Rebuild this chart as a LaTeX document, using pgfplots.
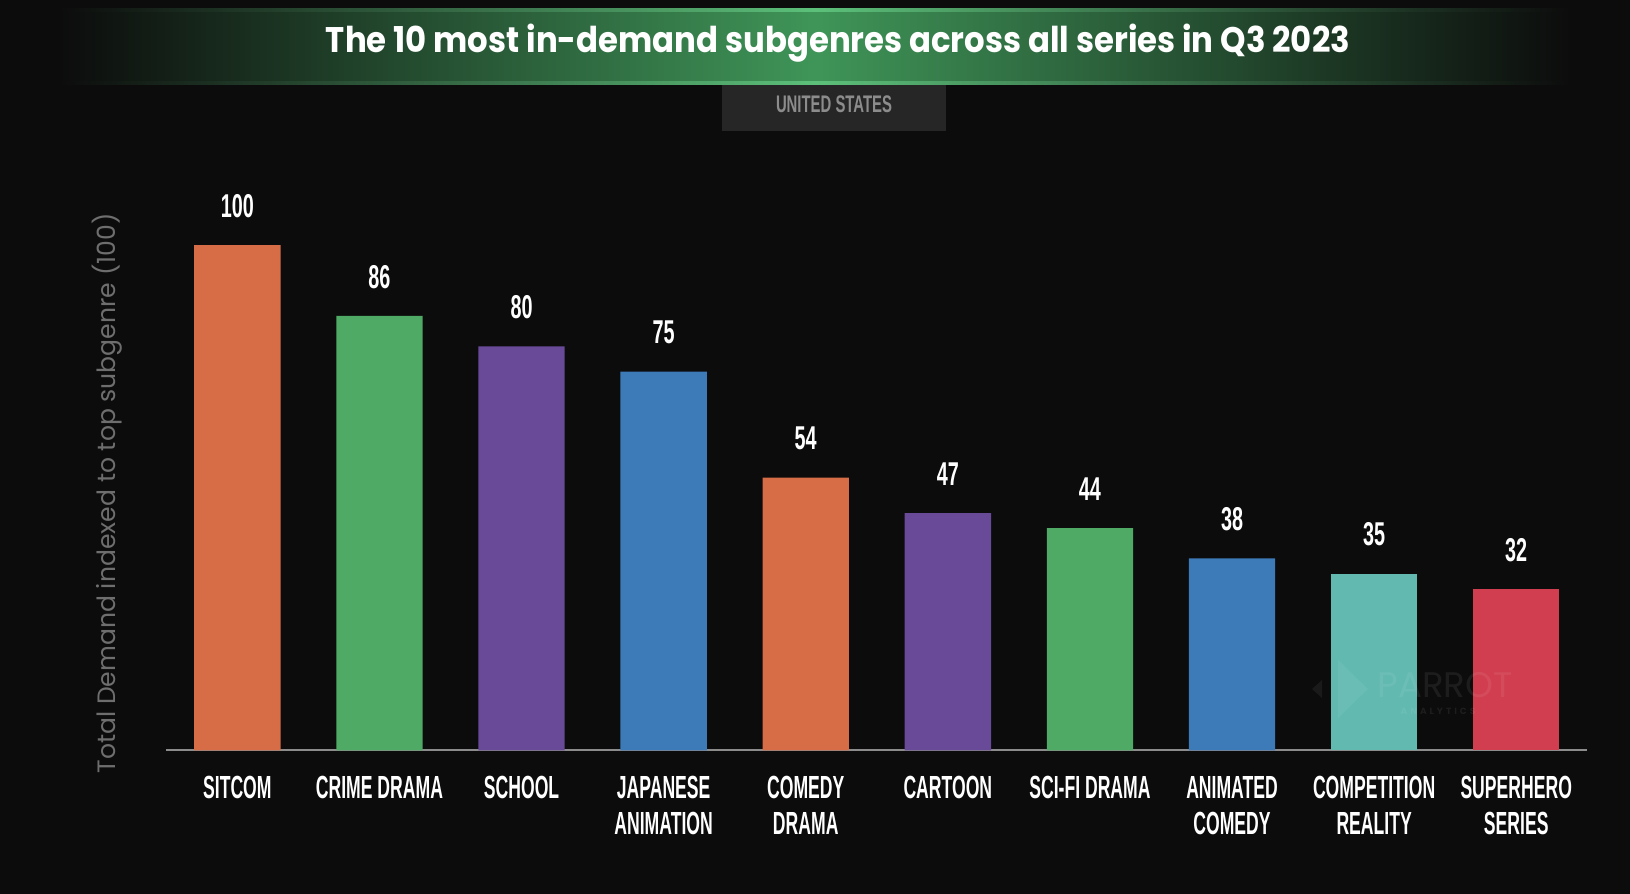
\documentclass[border=0pt]{standalone}
\usepackage{pgfplots}
\pgfplotsset{compat=1.18}
\usepackage{fontspec}
\setmainfont{Liberation Sans}
\newfontfamily\titlefont{Poppins}
\usepackage{graphicx}
\definecolor{bg}{HTML}{0C0C0C}
\definecolor{bandgreen}{HTML}{3F9558}
\definecolor{linegreen}{HTML}{5CC07A}
\definecolor{corange}{HTML}{D76D47}
\definecolor{cgreen}{HTML}{4FAA65}
\definecolor{cpurple}{HTML}{684A98}
\definecolor{cblue}{HTML}{3D7AB8}
\definecolor{cteal}{HTML}{61B9B0}
\definecolor{cred}{HTML}{D13E50}
\definecolor{axisgray}{HTML}{8C8C8C}
\definecolor{subbox}{HTML}{262626}
\definecolor{subtext}{HTML}{8C8C8C}
\definecolor{ylab}{HTML}{6E6E6E}
\newcommand\vlab[1]{\scalebox{0.6}[1]{\fontsize{16.5}{18}\selectfont\bfseries #1}}
\newcommand\tlab[2]{\scalebox{0.55}[1]{\fontsize{16}{18}\selectfont\bfseries\begin{tabular}[t]{@{}c@{}}#1\\#2\end{tabular}}}
\begin{document}
\begin{tikzpicture}[x=1pt,y=1pt]
\useasboundingbox (0,0) rectangle (815,447);
\fill[bg] (0,0) rectangle (815,447);
% title band
\shade[left color=bg, right color=bg, middle color=bandgreen] (30,405.5) rectangle (785,442);
\shade[left color=bg, right color=bg, middle color=linegreen] (30,441) rectangle (785,442.6);
\shade[left color=bg, right color=bg, middle color=linegreen] (30,404.8) rectangle (785,406.4);
\node[text=white, inner sep=0pt] at (419,425.2) {\scalebox{1}[1.1]{\resizebox{512pt}{!}{\titlefont\bfseries The 10 most in-demand subgenres across all series in Q3 2023}}};
% subtitle
\fill[subbox] (361,381.5) rectangle (473,404.5);
\node[text=subtext, inner sep=0pt] at (417,395) {\scalebox{0.62}[1]{\fontsize{12}{14}\selectfont\bfseries UNITED STATES}};
% y label
\node[text=ylab, inner sep=0pt, rotate=90] at (53.5,200.25) {\resizebox{280pt}{!}{\titlefont Total Demand indexed to top subgenre (100)}};
\begin{axis}[
  at={(83.15pt,71.75pt)}, anchor=south west,
  scale only axis, width=710.5pt, height=277.9pt,
  xmin=-0.5, xmax=9.5, ymin=0, ymax=110,
  axis x line=bottom, axis y line=none,
  x axis line style={-, draw=axisgray, line width=1pt},
  xtick={0,...,9},
  xticklabels={\tlab{SITCOM}{}, \tlab{CRIME DRAMA}{}, \tlab{SCHOOL}{}, \tlab{JAPANESE}{ANIMATION}, \tlab{COMEDY}{DRAMA}, \tlab{CARTOON}{}, \tlab{SCI-FI DRAMA}{}, \tlab{ANIMATED}{COMEDY}, \tlab{COMPETITION}{REALITY}, \tlab{SUPERHERO}{SERIES}},
  major tick length=0pt,
  xticklabel style={inner sep=0pt, yshift=-11.4pt, text=white, anchor=north},
  ytick=\empty,
  ybar, bar width=43.15pt, bar shift=0pt,
  /pgf/number format/assume math mode=true,
  nodes near coords={\vlab{\pgfmathprintnumber{\pgfplotspointmeta}}},
  every node near coord/.append style={anchor=center, yshift=19.5pt, text=white, inner sep=0pt},
  clip=false,
]
\addplot[fill=corange, draw=none] coordinates {(0,100) (4,54)};
\addplot[fill=cgreen, draw=none] coordinates {(1,86) (6,44)};
\addplot[fill=cpurple, draw=none] coordinates {(2,80) (5,47)};
\addplot[fill=cblue, draw=none] coordinates {(3,75) (7,38)};
\addplot[fill=cteal, draw=none] coordinates {(8,35)};
\addplot[fill=cred, draw=none] coordinates {(9,32)};
\end{axis}
% watermark
\fill[white, opacity=0.06] (669,88) -- (684,102.5) -- (669,117) -- cycle;
\fill[white, opacity=0.06] (656,102.5) -- (661,107) -- (661,98) -- cycle;
\node[text=white, opacity=0.07, inner sep=0pt, anchor=south] at (722.5,98) {\resizebox{67.5pt}{!}{\titlefont PARROT}};
\node[text=white, opacity=0.07, inner sep=0pt, anchor=north] at (719,93) {\fontsize{4.5}{5}\selectfont\titlefont\bfseries A\,\,N\,\,A\,\,L\,\,Y\,\,T\,\,I\,\,C\,\,S};
\end{tikzpicture}
\end{document}
